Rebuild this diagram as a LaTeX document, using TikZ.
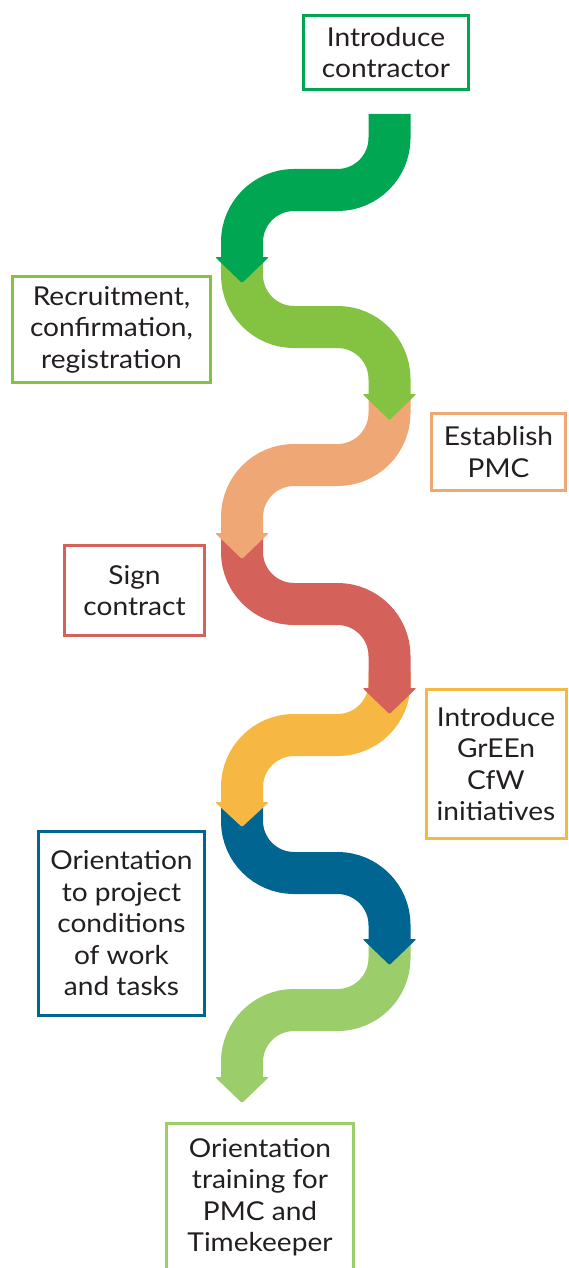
\documentclass[tikz,border=0pt]{standalone}
\usepackage{fontspec}
\setmainfont{Lato}[FakeStretch=1.08]

\definecolor{stepone}{HTML}{00A651}
\definecolor{steptwo}{HTML}{84C341}
\definecolor{stepthree}{HTML}{EEA775}
\definecolor{stepfour}{HTML}{D4625B}
\definecolor{stepfive}{HTML}{F6B743}
\definecolor{stepsix}{HTML}{006591}
\definecolor{stepseven}{HTML}{9BCD6A}
\definecolor{boxtext}{HTML}{231F20}

\tikzset{
    band/.style={line width=42pt, rounded corners=52pt},
    tip/.style={rounded corners=1.2pt},
    stepbox/.style={draw, line width=3pt, fill=white, inner sep=0pt, align=center,
        text=boxtext, font=\fontsize{26}{31.5}\selectfont}
}

\begin{document}
\begin{tikzpicture}[x=1pt, y=-1pt]
        \useasboundingbox (0, 0) rectangle (568, 1268);

            %%last band first, so each arrow head sits on top of the next band
            \draw[band, stepseven](389.5, 939) -- (389.5, 1010) -- (242, 1010) -- (242, 1079);
                \fill[tip, stepseven](215, 1077) -- (269, 1077) -- (242, 1103) -- cycle;
            \draw[band, stepsix](242, 802) -- (242, 873) -- (389.5, 873) -- (389.5, 941);
                \fill[tip, stepsix](362.5, 939) -- (416.5, 939) -- (389.5, 965) -- cycle;
            \draw[band, stepfive](389.5, 671) -- (389.5, 735) -- (242, 735) -- (242, 804);
                \fill[tip, stepfive](215, 802) -- (269, 802) -- (242, 827) -- cycle;
            \draw[band, stepfour](242, 533) -- (242, 604) -- (389.5, 604) -- (389.5, 690);
                \fill[tip, stepfour](362.5, 688) -- (416.5, 688) -- (389.5, 714) -- cycle;
            \draw[band, stepthree](389.5, 394) -- (389.5, 465) -- (242, 465) -- (242, 535);
                \fill[tip, stepthree](215, 533) -- (269, 533) -- (242, 559) -- cycle;
            \draw[band, steptwo](242, 257) -- (242, 327) -- (389.5, 327) -- (389.5, 396);
                \fill[tip, steptwo](362.5, 394) -- (416.5, 394) -- (389.5, 420) -- cycle;
            \draw[band, stepone](389.5, 114) -- (389.5, 190) -- (242, 190) -- (242, 259);
                \fill[tip, stepone](215, 257) -- (269, 257) -- (242, 283) -- cycle;

            %%the steps
            \node[stepbox, draw=stepone, minimum width=165pt, minimum height=74pt]
                (introduce) at (386, 52.5){Introduce\\contractor};
            \node[stepbox, draw=steptwo, minimum width=198pt, minimum height=106pt]
                (recruit) at (111.5, 329.5){Recruitment,\\confirmation,\\registration};
            \node[stepbox, draw=stepthree, minimum width=134pt, minimum height=77pt]
                (pmc) at (498.5, 452){Establish\\PMC};
            \node[stepbox, draw=stepfour, minimum width=140pt, minimum height=90pt]
                (contract) at (134.5, 590.5){Sign\\contract};
            \node[stepbox, draw=stepfive, minimum width=140pt, minimum height=149pt]
                (green) at (496, 764){Introduce\\GrEEn\\CfW\\initiatives};
            \node[stepbox, draw=stepsix, minimum width=166pt, minimum height=184pt]
                (project) at (121.5, 923.5){Orientation\\to project\\conditions\\of work\\and tasks};
            \node[stepbox, draw=stepseven, minimum width=187pt, minimum height=147pt]
                (training) at (260, 1197){Orientation\\training for\\PMC and\\Timekeeper};
\end{tikzpicture}
\end{document}
